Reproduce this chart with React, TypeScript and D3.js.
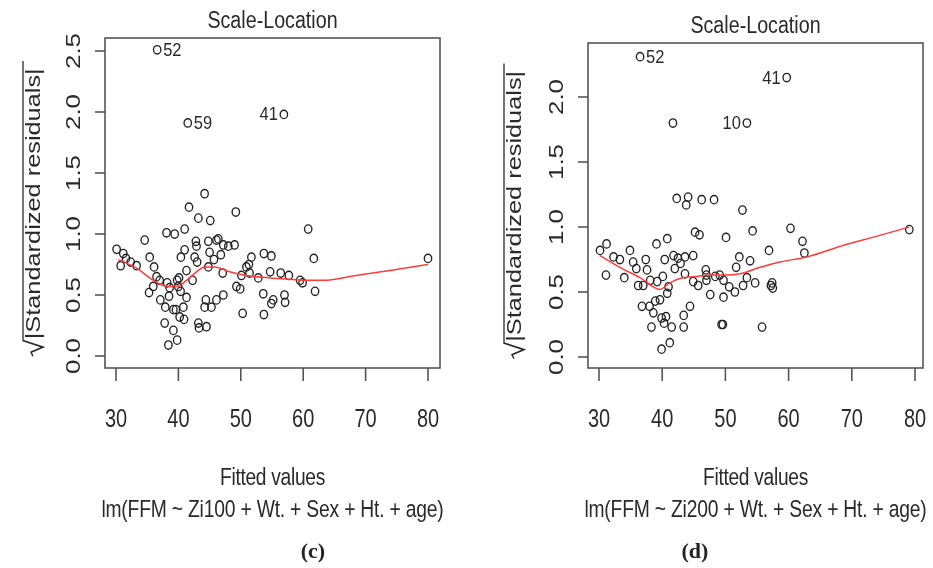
import React, { useEffect, useRef } from "react";
import * as d3 from "d3";

// ---- data ----
const xTicks = [30, 40, 50, 60, 70, 80];
const yTicks100 = [0, 0.5, 1.0, 1.5, 2.0, 2.5];
const yTicks200 = [0, 0.5, 1.0, 1.5, 2.0];

// (c) lm(FFM ~ Zi100 + ...)
const fit100 = [
  30.1, 31.17, 30.75, 31.6, 32.35, 33.3, 34.6, 35.4, 36.1, 36.5, 35.97, 35.3, 37.0, 37.1, 37.8, 38.4,
  38.1, 39.4, 41.0, 38.2, 38.6, 37.9, 38.5, 39.2, 39.6, 39.8, 40.1, 40.4, 41.0, 41.3, 39.97, 40.35,
  41.3, 40.8, 40.2, 39.2, 39.8, 40.9, 41.7, 43.2, 44.2, 45.1, 42.8, 42.9, 42.6, 43.0, 42.27, 44.8,
  45.0, 46.4, 46.1, 44.8, 44.4, 44.2, 45.3, 46.1, 47.2, 46.8, 47.1, 48.0, 49.0, 49.2, 43.2, 44.5,
  43.3, 49.3, 49.9, 50.3, 50.1, 50.9, 51.7, 51.4, 52.8, 53.7, 54.9, 53.6, 53.7, 54.7, 54.9, 55.2,
  56.4, 57.0, 57.1, 57.7, 59.5, 59.9, 60.8, 61.7, 61.9, 80.0, 51.3, 45.7, 47.2,
];
const res100 = [
  0.875, 0.84, 0.74, 0.8, 0.77, 0.74, 0.95, 0.81, 0.73, 0.65, 0.57, 0.52, 0.62, 0.46, 0.27, 0.09,
  1.01, 1.0, 1.04, 0.6, 0.56, 0.4, 0.49, 0.38, 0.38, 0.62, 0.64, 0.81, 0.87, 0.7, 0.57, 0.53,
  0.48, 0.4, 0.32, 0.21, 0.13, 0.3, 1.22, 1.13, 1.33, 1.11, 0.94, 0.9, 0.81, 0.77, 0.62, 0.94,
  0.85, 0.96, 0.95, 0.73, 0.46, 0.4, 0.4, 0.46, 0.5, 0.83, 0.68, 0.9, 0.91, 1.18, 0.27, 0.24,
  0.23, 0.57, 0.55, 0.35, 0.66, 0.73, 0.81, 0.68, 0.64, 0.84, 0.82, 0.51, 0.34, 0.69, 0.43, 0.46,
  0.68, 0.5, 0.44, 0.66, 0.62, 0.6, 1.04, 0.8, 0.53, 0.8, 0.75, 0.79, 0.91,
];
const outFit100 = [36.6, 41.5, 56.9];
const outRes100 = [2.51, 1.91, 1.98];
const outLab100 = ["52", "59", "41"];
const outSide100 = ["right", "right", "left"];
const smoothX100 = [30.37, 33.3, 36.0, 38.1, 39.7, 41.3, 42.9, 44.2, 45.8, 48.2, 50.9, 54.7, 57.9, 60.5, 63.2, 68.5, 73.9, 80.0];
const smoothY100 = [0.79, 0.72, 0.62, 0.57, 0.57, 0.62, 0.69, 0.73, 0.73, 0.69, 0.66, 0.64, 0.63, 0.62, 0.62, 0.66, 0.7, 0.75];

// (d) lm(FFM ~ Zi200 + ...)
const fit200 = [
  30.16, 31.2, 31.1, 32.3, 33.3, 34.0, 34.9, 35.4, 35.9, 36.2, 36.8, 37.4, 37.6, 37.0, 38.1, 38.0,
  38.3, 38.6, 39.1, 39.2, 39.65, 39.9, 39.9, 40.3, 40.6, 40.8, 40.4, 40.1, 40.8, 41.2, 41.5, 41.8,
  42.0, 42.3, 43.8, 44.1, 42.5, 42.9, 43.6, 43.6, 43.4, 43.4, 44.4, 44.9, 45.2, 45.9, 44.9, 46.25,
  45.7, 46.9, 47.0, 47.6, 48.2, 49.4, 49.7, 49.7, 50.1, 50.6, 51.5, 51.7, 52.2, 52.7, 52.8, 53.4,
  53.9, 54.3, 54.7, 55.8, 56.9, 57.2, 57.5, 60.3, 62.2, 62.5, 79.1, 48.4, 49.1, 47.0, 41.0, 38.9,
  49.6, 57.4, 41.7,
];
const res200 = [
  0.82, 0.87, 0.63, 0.77, 0.75, 0.61, 0.82, 0.73, 0.68, 0.55, 0.39, 0.75, 0.67, 0.55, 0.59, 0.39,
  0.23, 0.34, 0.87, 0.58, 0.44, 0.3, 0.06, 0.26, 0.31, 0.91, 0.75, 0.62, 0.49, 0.11, 0.23, 0.78,
  0.68, 1.22, 1.17, 1.23, 0.76, 0.72, 0.77, 0.64, 0.32, 0.23, 0.39, 0.78, 0.96, 0.94, 0.58, 1.21,
  0.55, 0.67, 0.59, 0.48, 1.21, 0.25, 0.46, 0.59, 0.92, 0.54, 0.5, 0.69, 0.77, 1.13, 0.55, 0.61,
  0.74, 0.97, 0.57, 0.23, 0.82, 0.55, 0.53, 0.99, 0.89, 0.8, 0.98, 0.62, 0.63, 0.63, 0.54, 0.43,
  0.25, 0.57, 1.8,
];
const outFit200 = [36.5, 59.7, 53.4];
const outRes200 = [2.31, 2.15, 1.8];
const outLab200 = ["52", "41", "10"];
const outSide200 = ["right", "left", "left"];
const smoothX200 = [30.16, 33.3, 36.5, 39.65, 41.2, 43.3, 45.5, 47.6, 50.2, 52.3, 55.5, 58.6, 62.9, 68.7, 74.0, 79.1];
const smoothY200 = [0.78, 0.69, 0.61, 0.52, 0.57, 0.61, 0.62, 0.63, 0.63, 0.64, 0.69, 0.73, 0.77, 0.86, 0.93, 1.0];

const FONT = "'Liberation Sans', Arial, sans-serif";
const SY = 1.27; // picture is stretched vertically

const panels = [
  {
    fit: fit100, res: res100,
    outFit: outFit100, outRes: outRes100, outLab: outLab100, outSide: outSide100,
    sx: smoothX100, sy: smoothY100, yTicks: yTicks100,
    box: { l: 105, t: 38, r: 440, b: 368 }, xr: [116, 428], yd: [0, 2.5], yr: [356, 51],
    titleY: 28, ylabX: 40,
    formula: "lm(FFM ~ Zi100 + Wt. + Sex + Ht. + age)", tag: "(c)", tagX: 313,
  },
  {
    fit: fit200, res: res200,
    outFit: outFit200, outRes: outRes200, outLab: outLab200, outSide: outSide200,
    sx: smoothX200, sy: smoothY200, yTicks: yTicks200,
    box: { l: 588, t: 43, r: 923, b: 368 }, xr: [599, 915], yd: [0, 2.0], yr: [357, 97],
    titleY: 33, ylabX: 521,
    formula: "lm(FFM ~ Zi200 + Wt. + Sex + Ht. + age)", tag: "(d)", tagX: 695,
  },
];

const App = () => {
  const ref = useRef<SVGSVGElement>(null);

  useEffect(() => {
    const svg = d3.select(ref.current);
    svg.selectAll("*").remove();

    svg.append("defs").append("filter").attr("id", "soft")
      .append("feGaussianBlur").attr("stdDeviation", 0.45);

    const root = svg.append("g").attr("filter", "url(#soft)");

    panels.forEach(p => {
      const g = root.append("g");
      const x = d3.scaleLinear().domain([30, 80]).range(p.xr);
      const y = d3.scaleLinear().domain(p.yd).range(p.yr);
      const { l, t, r, b } = p.box;
      const cx = (l + r) / 2;
      const cy = (t + b) / 2;

      // box
      g.append("rect")
        .attr("x", l).attr("y", t).attr("width", r - l).attr("height", b - t)
        .attr("fill", "none").attr("stroke", "#555").attr("stroke-width", 1.6);

      // x ticks + labels
      g.selectAll(".xt").data(xTicks).enter().append("line")
        .attr("x1", d => x(d)).attr("x2", d => x(d))
        .attr("y1", b).attr("y2", b + 13)
        .attr("stroke", "#555").attr("stroke-width", 1.6);
      g.selectAll(".xl").data(xTicks).enter().append("text")
        .attr("transform", d => `translate(${x(d)},427) scale(1,${1.33})`)
        .attr("text-anchor", "middle")
        .attr("font-family", FONT).attr("font-size", 20).attr("fill", "#2a2a2a")
        .text(d => d);

      // y ticks + labels (rotated, R style)
      g.selectAll(".yt").data(p.yTicks).enter().append("line")
        .attr("x1", l - 10).attr("x2", l)
        .attr("y1", d => y(d)).attr("y2", d => y(d))
        .attr("stroke", "#555").attr("stroke-width", 1.6);
      g.selectAll(".yl").data(p.yTicks).enter().append("text")
        .attr("transform", d => `translate(${l - 25},${y(d)}) rotate(-90) scale(${1.3},1)`)
        .attr("text-anchor", "middle")
        .attr("font-family", FONT).attr("font-size", 20).attr("fill", "#2a2a2a")
        .text(d => d3.format(".1f")(d));

      // title
      g.append("text")
        .attr("transform", `translate(${cx},${p.titleY}) scale(1,1.18)`)
        .attr("text-anchor", "middle")
        .attr("font-family", FONT).attr("font-size", 19.7).attr("fill", "#2a2a2a")
        .text("Scale-Location");

      // x labels
      g.append("text")
        .attr("transform", `translate(${cx},485) scale(1,${SY})`)
        .attr("text-anchor", "middle")
        .attr("font-family", FONT).attr("font-size", 19.2).attr("fill", "#2a2a2a")
        .attr("letter-spacing", -0.3)
        .text("Fitted values");
      g.append("text")
        .attr("transform", `translate(${cx},517) scale(1,${SY})`)
        .attr("text-anchor", "middle")
        .attr("font-family", FONT).attr("font-size", 19.3).attr("fill", "#2a2a2a")
        .attr("letter-spacing", -0.2)
        .text(p.formula);

      // y label: sqrt(|Standardized residuals|)
      const yl = g.append("g")
        .attr("transform", `translate(${p.ylabX},${cy + 5}) rotate(-90) scale(1.3,1)`);
      yl.append("path")
        .attr("d", "M-114,-7 L-111,-9 L-107,3 L-102,-17 L113,-17")
        .attr("fill", "none").attr("stroke", "#2a2a2a").attr("stroke-width", 1.3);
      yl.append("text")
        .attr("x", -101).attr("y", 0)
        .attr("font-family", FONT).attr("font-size", 19.5).attr("fill", "#2a2a2a")
        .text("|Standardized residuals|");

      // points
      const pts = p.fit.map((f, i) => [f, p.res[i]]);
      g.selectAll(".pt").data(pts).enter().append("ellipse")
        .attr("cx", d => x(d[0])).attr("cy", d => y(d[1]))
        .attr("rx", 3.7).attr("ry", 4.2)
        .attr("fill", "none").attr("stroke", "#222").attr("stroke-width", 1.35);

      // labelled points
      const outs = p.outFit.map((f, i) => ({ f, r: p.outRes[i], lab: p.outLab[i], side: p.outSide[i] }));
      g.selectAll(".op").data(outs).enter().append("ellipse")
        .attr("cx", d => x(d.f)).attr("cy", d => y(d.r))
        .attr("rx", 3.7).attr("ry", 4.2)
        .attr("fill", "none").attr("stroke", "#222").attr("stroke-width", 1.35);
      g.selectAll(".ol").data(outs).enter().append("text")
        .attr("transform", d => `translate(${x(d.f) + (d.side === "right" ? 6 : -6)},${y(d.r) + 6}) scale(1,1.15)`)
        .attr("text-anchor", d => (d.side === "right" ? "start" : "end"))
        .attr("font-family", FONT).attr("font-size", 16.5).attr("fill", "#2a2a2a")
        .text(d => d.lab);

      // smoother
      const line = d3.line<number>()
        .x(d => x(d))
        .y((d, i) => y(p.sy[i]))
        .curve(d3.curveMonotoneX);
      g.append("path")
        .attr("d", line(p.sx))
        .attr("fill", "none").attr("stroke", "#ff3b3b").attr("stroke-width", 1.5);

      // panel tag
      g.append("text")
        .attr("x", p.tagX).attr("y", 558)
        .attr("text-anchor", "middle")
        .attr("font-family", "'Liberation Serif', 'DejaVu Serif', serif")
        .attr("font-weight", "bold").attr("font-size", 22).attr("fill", "#222")
        .text(p.tag);
    });
  }, []);

  return (
    <svg
      ref={ref}
      width={933}
      height={568}
      style={{ position: "absolute", left: 0, top: 0, background: "#fff" }}
    ></svg>
  );
};

export default App;
